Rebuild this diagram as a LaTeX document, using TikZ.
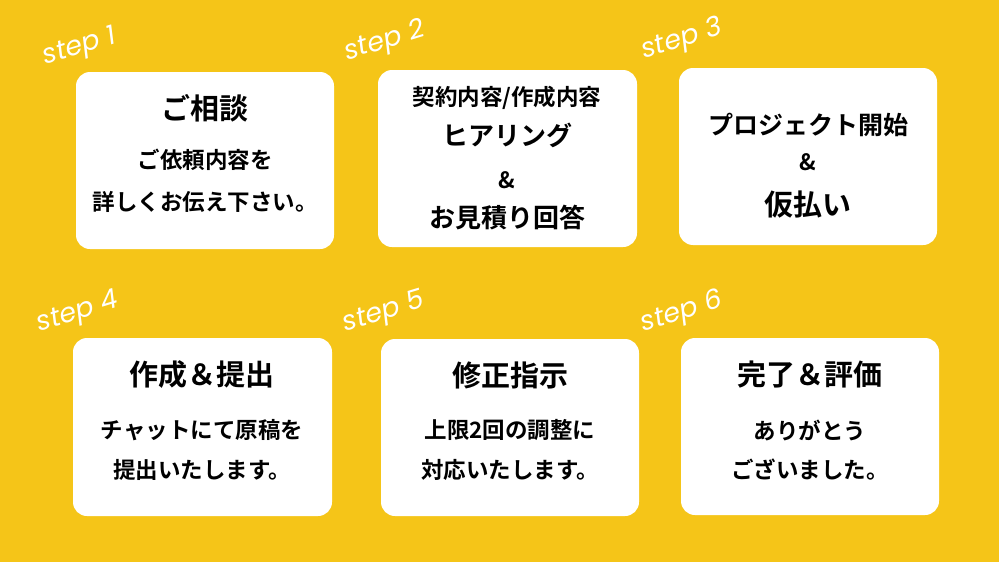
\documentclass[tikz,border=0pt]{standalone}
\usepackage{fontspec}
\newfontfamily\cjk{Noto Sans CJK JP}[BoldFont={* Bold}]
\setmainfont{Poppins}
\definecolor{bgy}{HTML}{F5C518}
\begin{document}
\begin{tikzpicture}[x=1pt,y=-1pt,
  card/.style={fill=white,rounded corners=14pt},
  ttl/.style={font=\cjk\bfseries\fontsize{29}{32}\selectfont},
  sub/.style={font=\cjk\bfseries\fontsize{22.5}{26}\selectfont},
  steplbl/.style={text=white,rotate=17,inner sep=0pt,font=\itshape\fontsize{27}{30}\selectfont}]
\fill[bgy] (0,0) rectangle (999,562);
\useasboundingbox (0,0) rectangle (999,562);
\fill[card] (76,72) rectangle (334,249);
\fill[card] (378,70) rectangle (637,247);
\fill[card] (679,68) rectangle (937,245);
\fill[card] (73,338) rectangle (332,516);
\fill[card] (381,339) rectangle (639,516);
\fill[card] (681,338) rectangle (939,515);
\node[steplbl] (s1) at (80,48) {step 1};
\node[steplbl] (s2) at (385,42) {step 2};
\node[steplbl] (s3) at (682,40) {step 3};
\node[steplbl] (s4) at (78,313) {step 4};
\node[steplbl] (s5) at (384,313) {step 5};
\node[steplbl] (s6) at (682,313) {step 6};
\node[ttl] (b1a) at (205,108) {ご相談};
\node[sub] (b1b) at (205,160) {ご依頼内容を};
\node[sub] (b1c) at (205,202) {詳しくお伝え下さい。};
\node[sub] (b2a) at (507,98) {契約内容/作成内容};
\node[ttl,font=\cjk\bfseries\fontsize{26}{30}\selectfont] (b2b) at (507,135) {ヒアリング};
\node[sub] (b2c) at (507,180) {\&};
\node[ttl,font=\cjk\bfseries\fontsize{26}{30}\selectfont] (b2d) at (507,218) {お見積り回答};
\node[ttl,font=\cjk\bfseries\fontsize{25}{28}\selectfont] (b3a) at (808,125) {プロジェクト開始};
\node[sub] (b3b) at (808,162) {\&};
\node[ttl] (b3c) at (808,205) {仮払い};
\node[ttl] (b4a) at (202,375) {作成＆提出};
\node[sub] (b4b) at (202,430) {チャットにて原稿を};
\node[sub] (b4c) at (202,470) {提出いたします。};
\node[ttl] (b5a) at (510,375) {修正指示};
\node[sub] (b5b) at (510,430) {上限2回の調整に};
\node[sub] (b5c) at (510,470) {対応いたします。};
\node[ttl] (b6a) at (810,375) {完了＆評価};
\node[sub] (b6b) at (810,430) {ありがとう};
\node[sub] (b6c) at (810,470) {ございました。};
\end{tikzpicture}
\end{document}
